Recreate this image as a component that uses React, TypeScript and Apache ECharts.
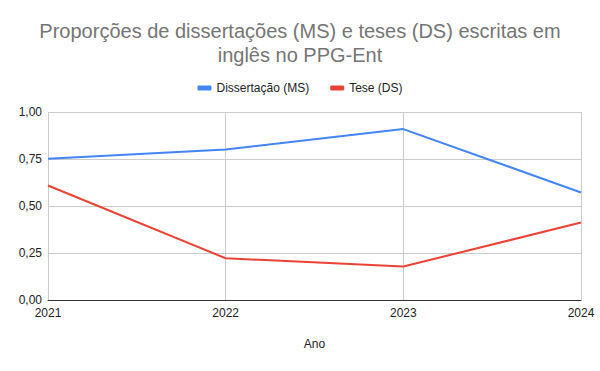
import React, { useEffect, useRef } from "react";
import * as echarts from "echarts";

const categories = ["2021", "2022", "2023", "2024"];
const msValues = [0.751, 0.801, 0.909, 0.572];
const dsValues = [0.609, 0.222, 0.178, 0.412];
const seriesNames = ["Dissertação (MS)", "Tese (DS)"];
const titleLines = ["Proporções de dissertações (MS) e teses (DS) escritas em", "inglês no PPG-Ent"];

const FONT = "'Liberation Sans', Arial, sans-serif";

export default function App() {
  const ref = useRef<HTMLDivElement>(null);
  useEffect(() => {
    if (!ref.current) return;
    const chart = echarts.init(ref.current, null, { renderer: "svg" });
    chart.setOption({
      animation: false,
      backgroundColor: "#ffffff",
      textStyle: { fontFamily: FONT },
      graphic: titleLines.map((t, i) => ({
        type: "text",
        x: 300,
        y: 31 + i * 24,
        style: {
          text: t,
          fontFamily: FONT,
          fontSize: 20,
          fill: "#757575",
          align: "center",
          verticalAlign: "middle",
        },
      })),
      legend: {
        top: 77,
        left: "center",
        itemWidth: 14,
        itemHeight: 5,
        itemGap: 21,
        icon: "roundRect",
        textStyle: { fontFamily: FONT, fontSize: 12, color: "#222222" },
        data: seriesNames,
      },
      grid: { left: 48, right: 19, top: 112, bottom: 71, containLabel: false },
      xAxis: {
        type: "category",
        data: categories,
        boundaryGap: false,
        name: "Ano",
        nameLocation: "middle",
        nameGap: 38,
        nameTextStyle: { fontFamily: FONT, fontSize: 12, color: "#222222" },
        axisLine: { lineStyle: { color: "#333333", width: 1 } },
        axisTick: { show: false },
        axisLabel: { color: "#222222", fontSize: 12, margin: 7, fontFamily: FONT },
        splitLine: { show: true, lineStyle: { color: "#cccccc" } },
      },
      yAxis: {
        type: "value",
        min: 0,
        max: 1,
        interval: 0.25,
        axisLine: { show: false },
        axisTick: { show: false },
        axisLabel: {
          color: "#222222",
          fontSize: 12,
          margin: 6,
          fontFamily: FONT,
          formatter: (v: number) => v.toFixed(2).replace(".", ","),
        },
        splitLine: { lineStyle: { color: "#cccccc" } },
      },
      series: [
        {
          name: seriesNames[0],
          type: "line",
          data: msValues,
          showSymbol: false,
          symbol: "none",
          lineStyle: { color: "#4285f4", width: 2 },
          itemStyle: { color: "#4285f4" },
        },
        {
          name: seriesNames[1],
          type: "line",
          data: dsValues,
          showSymbol: false,
          symbol: "none",
          lineStyle: { color: "#ea4335", width: 2 },
          itemStyle: { color: "#ea4335" },
        },
      ],
    });
    return () => chart.dispose();
  }, []);
  return <div ref={ref} style={{ width: 600, height: 371, position: "absolute", left: 0, top: 0 }} />;
}
